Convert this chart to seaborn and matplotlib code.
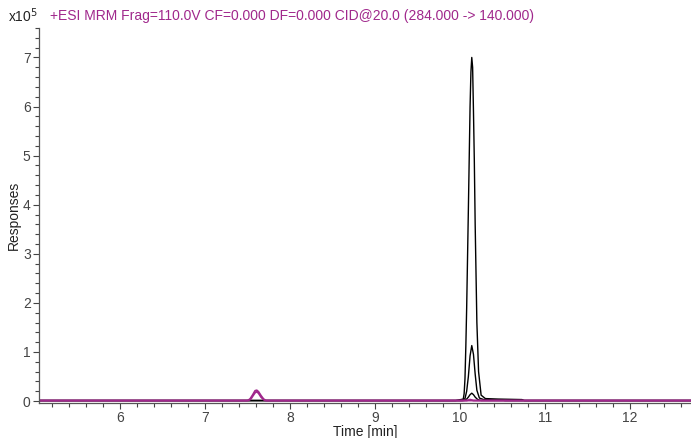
import pandas as pd
import numpy as np
import matplotlib.pyplot as plt
import seaborn as sns
from matplotlib.ticker import MultipleLocator

# traces (responses in units of 1e5)
t_big = [5.05, 9.95, 10.04, 10.05, 10.06, 10.07, 10.08, 10.10, 10.12, 10.13, 10.14,
         10.15, 10.16, 10.17, 10.18, 10.20, 10.22, 10.25, 10.30, 10.45, 10.73, 10.76, 12.72]
r_big = [0.01, 0.01, 0.04, 0.15, 0.45, 1.10, 1.90, 3.90, 6.00, 6.70, 7.00,
         6.80, 5.90, 4.90, 3.60, 1.60, 0.60, 0.12, 0.05, 0.04, 0.03, 0.01, 0.01]

t_mid = [5.05, 10.03, 10.06, 10.08, 10.10, 10.12, 10.14, 10.16, 10.18, 10.20,
         10.23, 10.28, 10.50, 10.53, 12.72]
r_mid = [0.01, 0.01, 0.05, 0.20, 0.50, 0.92, 1.13, 0.95, 0.55, 0.22,
         0.06, 0.03, 0.02, 0.01, 0.01]

t_small = [5.05, 10.05, 10.08, 10.10, 10.12, 10.14, 10.16, 10.18, 10.21, 10.25, 12.72]
r_small = [0.01, 0.01, 0.04, 0.08, 0.13, 0.16, 0.13, 0.08, 0.03, 0.01, 0.01]

t_p1 = [5.05, 7.50, 7.53, 7.56, 7.59, 7.61, 7.63, 7.66, 7.69, 7.72, 10.08, 10.12, 10.16, 12.72]
r_p1 = [0.01, 0.01, 0.04, 0.12, 0.21, 0.22, 0.19, 0.11, 0.04, 0.01, 0.01, 0.03, 0.01, 0.01]

t_p2 = [5.05, 7.51, 7.54, 7.57, 7.59, 7.61, 7.63, 7.66, 7.69, 7.71, 12.72]
r_p2 = [0.01, 0.01, 0.04, 0.12, 0.17, 0.19, 0.16, 0.08, 0.03, 0.01, 0.01]

title = "+ESI MRM Frag=110.0V CF=0.000 DF=0.000 CID@20.0 (284.000 -> 140.000)"
purple = "#a0288c"

frames = []
for name, t, r in [("a", t_big, r_big), ("b", t_mid, r_mid), ("c", t_small, r_small),
                   ("p1", t_p1, r_p1), ("p2", t_p2, r_p2)]:
    frames.append(pd.DataFrame({"Time": t, "Resp": r, "trace": name}))
df = pd.concat(frames, ignore_index=True)

sns.set_style("ticks")
plt.rcParams['font.family'] = ['Liberation Sans', 'DejaVu Sans']

fig = plt.figure(figsize=(6.91, 4.38), dpi=100)
ax = fig.add_axes([39 / 691, 35 / 438, 1 - 39 / 691, 375 / 438])

palette = {"a": "black", "b": "black", "c": "black", "p1": purple, "p2": purple}
widths = {"a": 1.0, "b": 1.0, "c": 1.0, "p1": 1.3, "p2": 1.3}
for name in ["a", "b", "c", "p1", "p2"]:
    sub = df[df["trace"] == name]
    sns.lineplot(data=sub, x="Time", y="Resp", color=palette[name], lw=widths[name],
                 estimator=None, sort=False, ax=ax)

ax.set_xlim(5.047, 12.72)
ax.set_ylim(-0.04, 7.6)
ax.xaxis.set_major_locator(MultipleLocator(1))
ax.xaxis.set_minor_locator(MultipleLocator(0.2))
ax.yaxis.set_major_locator(MultipleLocator(1))
ax.yaxis.set_minor_locator(MultipleLocator(0.2))
ax.tick_params(which="both", direction="out", color="#444444", width=0.8,
               labelsize=10, labelcolor="#444444", pad=2)
ax.tick_params(which="major", length=4)
ax.tick_params(which="minor", length=3)
sns.despine(ax=ax)
for s in ["left", "bottom"]:
    ax.spines[s].set_color("#555555")
    ax.spines[s].set_linewidth(0.9)

ax.set_xlabel("")
ax.set_ylabel("")
fig.text(365 / 691, 1 - 432 / 438, "Time [min]", ha="center", va="center",
         fontsize=10, color="#222222")
fig.text(14 / 691, 1 - 215 / 438, "Responses", ha="center", va="center",
         rotation=90, fontsize=10, color="#222222")
fig.text(8 / 691, 1 - 16 / 438, r"x10$^5$", ha="left", va="center",
         fontsize=10, color="#222222")
fig.text(50 / 691, 1 - 16 / 438, title, ha="left", va="center",
         fontsize=10, color=purple)

fig.savefig("out.png", dpi=100)
